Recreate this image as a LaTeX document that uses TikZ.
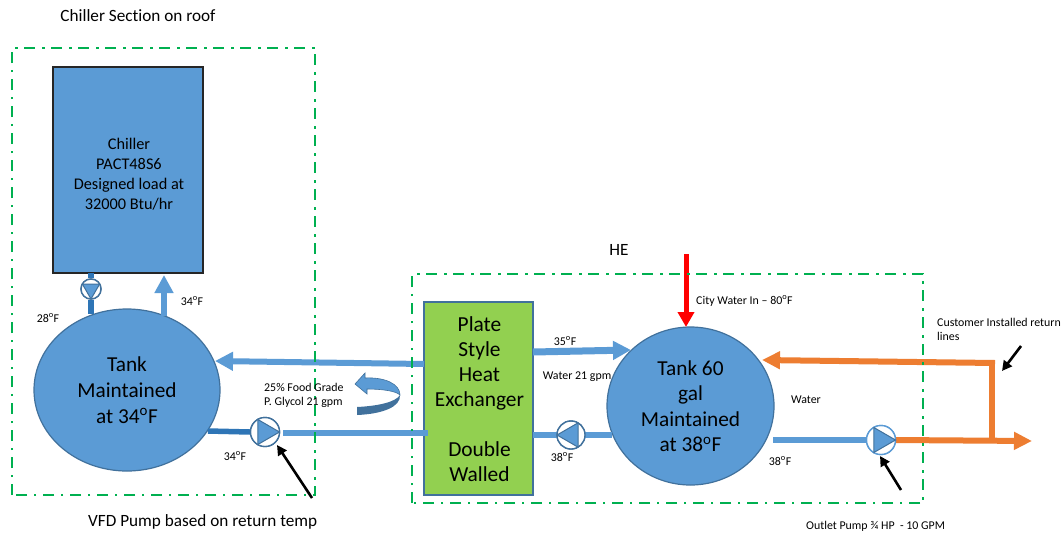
\documentclass[tikz,border=0pt]{standalone}
\usepackage{fontspec}
\setmainfont{Carlito}[Ligatures=NoCommon]
\usetikzlibrary{arrows.meta,shapes.geometric}
\definecolor{fillblue}{HTML}{5B9BD5}
\definecolor{edgeblue}{HTML}{41719C}
\definecolor{darkpipe}{HTML}{2E75B6}
\definecolor{hxgreen}{HTML}{92D050}
\definecolor{zonegreen}{HTML}{00B050}
\definecolor{orangepipe}{HTML}{ED7D31}
\definecolor{swirldark}{HTML}{41719C}
\tikzset{
  zonebox/.style={draw=zonegreen,line width=2.7pt,dash pattern=on 11pt off 7pt on 2.5pt off 6.5pt},
  tankshape/.style={ellipse,draw=edgeblue,line width=1.2pt,fill=fillblue,inner sep=0pt,align=center,text=black},
  pumpshape/.style={circle,draw=edgeblue,line width=1.4pt,fill=white,inner sep=0pt},
  pumptri/.style={draw=edgeblue,line width=1pt,fill=fillblue},
  lightpipe/.style={draw=fillblue,line width=6pt},
  darkpipestyle/.style={draw=darkpipe,line width=5.5pt},
  orangeline/.style={draw=orangepipe,line width=6pt},
  lightarrow/.style={lightpipe,-{Triangle[length=18pt,width=18pt]}},
  orangearrow/.style={orangeline,-{Triangle[length=18pt,width=17pt]}},
  redarrow/.style={draw=red,line width=5pt,-{Triangle[length=15pt,width=16pt]}},
  blackarrow/.style={draw=black,line width=2.6pt,-{Triangle[length=10pt,width=10pt]}},
  big/.style={font=\fontsize{21.4}{25}\selectfont,align=center},
  mid/.style={font=\fontsize{17.2}{20}\selectfont},
  small/.style={font=\fontsize{11.9}{14}\selectfont,inner sep=0pt},
}
\newcommand{\pumpglyph}[3]{\draw[pumptri,#3] ([shift={(#2:#1)}]\pumpname.center) -- ([shift={(#2+120:#1)}]\pumpname.center) -- ([shift={(#2+240:#1)}]\pumpname.center) -- cycle;}
\newcommand{\pumpname}{}
\begin{document}
\begin{tikzpicture}[x=1pt,y=-1pt]
\useasboundingbox (0,0) rectangle (1062,533);
\fill[white] (0,0) rectangle (1062,533);

% equipment
\node[draw=black!85,line width=2pt,fill=fillblue,minimum width=150pt,minimum height=206pt,inner sep=0pt] (chiller) at (128,170) {};
\node[inner sep=0pt,align=center,font=\fontsize{16.3}{20}\selectfont] (chillerText) at (129,174) {Chiller\\PACT48S6\\Designed load at\\32000 Btu/hr};
\node[tankshape,minimum width=186pt,minimum height=162pt,font=\fontsize{21.3}{26}\selectfont] (tankL) at (127,390) {Tank\\Maintained\\at 34\textsuperscript{o}F};
\node[tankshape,minimum width=167pt,minimum height=158pt,font=\fontsize{21.3}{25.5}\selectfont] (tankR) at (690.5,406) {Tank 60\\gal\\Maintained\\at 38\textsuperscript{o}F};
\node[draw=edgeblue,line width=1.8pt,fill=hxgreen,minimum width=109pt,minimum height=193pt,inner sep=0pt] (hx) at (478.5,398.5) {};
\node[inner sep=0pt,big] (hxText) at (479.5,399.5) {Plate\\Style\\Heat\\Exchanger\\[25pt]Double\\Walled};

% pumps
\node[pumpshape,minimum size=20pt] (pumpTop) at (91,289) {};
\node[pumpshape,minimum size=29pt] (pumpL) at (265,432) {};
\node[pumpshape,minimum size=28pt] (pumpM) at (571,435) {};
\node[pumpshape,draw=fillblue,minimum size=29pt] (pumpO) at (881,440) {};

% connector ends
\coordinate (chillerOutA) at (91,273);
\coordinate (tankTopA) at (91,314);
\coordinate (tankTopB) at (164,316);
\coordinate (chillerInB) at (164,275);
\coordinate (hxRetL) at (424,364);
\coordinate (tankRetL) at (215,361);
\coordinate (tankOutL) at (208,431);
\coordinate (hxInL) at (428,433);
\coordinate (pumpLout) at (283,433);
\coordinate (hxOutR) at (533,352);
\coordinate (tankInR) at (631,350);
\coordinate (hxRetR) at (533,435);
\coordinate (tankOutR) at (612,435);
\coordinate (tankOutB) at (773,440);
\coordinate (cityIn) at (686,254);
\coordinate (cityEnd) at (686,327);
\coordinate (outletEnd) at (1032,441);
\coordinate (junction) at (992,441);
\coordinate (corner) at (992,363);
\coordinate (retEnd) at (762,360);
\coordinate (vfdTail) at (312,498);
\coordinate (vfdTip) at (277,445);
\coordinate (outTail) at (901,490);
\coordinate (outTip) at (880,456);
\coordinate (custTail) at (1021,346);
\coordinate (custTip) at (1002,371);

% pipes
\draw[darkpipestyle] (chillerOutA) -- (pumpTop);
\draw[darkpipestyle] (pumpTop) -- (tankTopA);
\draw[lightarrow] (tankTopB) -- (chillerInB);
\draw[lightarrow] (hxRetL) -- (tankRetL);
\draw[darkpipestyle] (tankOutL) -- (pumpL.west);
\draw[lightpipe] (pumpLout) -- (hxInL);
\draw[lightarrow,line width=7pt] (hxOutR) -- (tankInR);
\draw[lightpipe] (hxRetR) -- (pumpM.east);
\draw[lightpipe] (pumpM.west) -- (tankOutR);
\draw[lightpipe] (tankOutB) -- (pumpO.west);
\draw[redarrow] (cityIn) -- (cityEnd);
\draw[orangearrow] (pumpO.east) -- (outletEnd);
\draw[orangeline] (junction) -- (corner) -- ++(3,0);
\draw[orangearrow] (corner) ++(3,0) -- (retEnd);

% pump redraw on top of pipes
\node[pumpshape,minimum size=20pt] at (pumpTop) {};
\node[pumpshape,minimum size=29pt] at (pumpL) {};
\node[pumpshape,minimum size=28pt] at (pumpM) {};
\node[pumpshape,draw=fillblue,minimum size=29pt] at (pumpO) {};
\renewcommand{\pumpname}{pumpTop}\pumpglyph{10pt}{-90}{}
\renewcommand{\pumpname}{pumpL}\pumpglyph{14.5pt}{0}{}
\renewcommand{\pumpname}{pumpM}\pumpglyph{14pt}{180}{}
\renewcommand{\pumpname}{pumpO}\pumpglyph{14.5pt}{0}{}

% zones
\draw[zonebox] (12,495) -- (12,48) -- (315,48) -- (315,495) -- cycle;
\draw[zonebox] (412,503) -- (412,274) -- (923,274) -- (923,503) -- cycle;

% swirl
\fill[fillblue,draw=edgeblue,line width=.6pt] (355,384) -- (365,373) -- (365,378) .. controls (385,377) and (400,384) .. (400,395) .. controls (396,391) and (382,389) .. (367,389) -- (367,394) -- cycle;
\fill[swirldark] (357,407) .. controls (378,406) and (396,402) .. (400,395) .. controls (401,407) and (382,414) .. (357,415) -- cycle;

% pointer arrows
\draw[blackarrow] (vfdTail) -- (vfdTip);
\draw[blackarrow] (outTail) -- (outTip);
\draw[blackarrow] (custTail) -- (custTip);

% labels
\node[mid,inner sep=0pt] (title) at (138,16) {Chiller Section on roof};
\node[mid,inner sep=0pt,anchor=west] (vfd) at (88,522) {VFD Pump based on return temp};
\node[mid,inner sep=0pt] (he) at (619,250) {HE};
\node[small] (t28) at (48,318) {28\textsuperscript{o}F};
\node[small] (t34a) at (192,301) {34\textsuperscript{o}F};
\node[small] (t34b) at (235,456) {34\textsuperscript{o}F};
\node[small,anchor=west,align=left] (glycol) at (264,395) {25\% Food Grade\\P. Glycol 21 gpm};
\node[small] (t35) at (565,341) {35\textsuperscript{o}F};
\node[small] (w21) at (577,377) {Water 21 gpm};
\node[small] (t38a) at (562,457) {38\textsuperscript{o}F};
\node[small,anchor=west] (city) at (696,301) {City Water In – 80\textsuperscript{o}F};
\node[small,anchor=west,align=left] (cust) at (937,329) {Customer Installed return\\lines};
\node[small] (water) at (806,400) {Water};
\node[small] (t38b) at (780,461) {38\textsuperscript{o}F};
\node[small,anchor=west] (outlet) at (806,526) {Outlet Pump ¾ HP\ \ - 10 GPM};
\end{tikzpicture}
\end{document}
